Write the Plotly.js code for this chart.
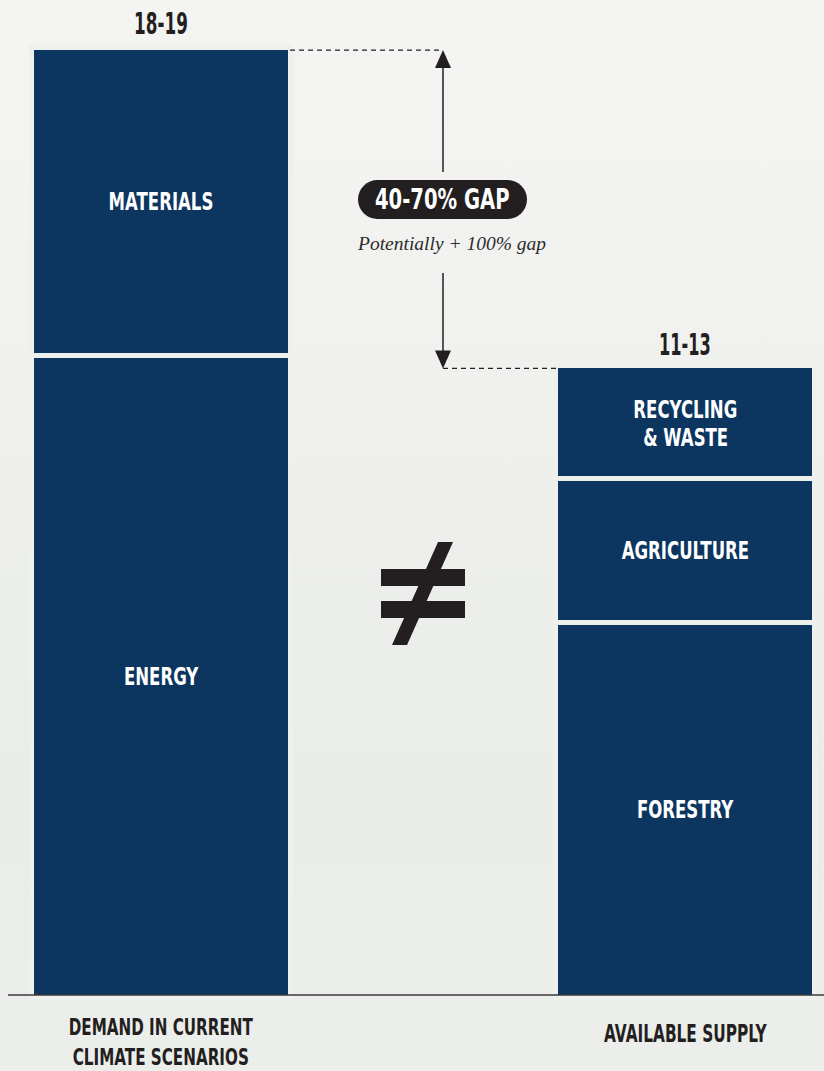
<!DOCTYPE html>
<html>
<head>
<meta charset="utf-8">
<script src="https://cdn.plot.ly/plotly-3.0.1.min.js"></script>
<style>
  html, body { margin:0; padding:0; }
  body { width:824px; height:1071px; overflow:hidden;
    background: linear-gradient(to bottom, #f4f4f3 0%, #f1f2f0 30%, #eceeeb 55%, #e9ece8 75%, #eceeeb 100%); }
  #chart { width:824px; height:1071px; }
</style>
</head>
<body>
<div id="chart"></div>
<script>
// ---- data ----
const categories = ['DEMAND IN CURRENT<br>CLIMATE SCENARIOS', 'AVAILABLE SUPPLY'];
const demandSegments = ['ENERGY', 'MATERIALS'];
const demandValues = [12.5, 6.0];
const supplySegments = ['FORESTRY', 'AGRICULTURE', 'RECYCLING<br>& WASTE'];
const supplyValues = [7.3, 2.8, 2.2];
const rangeLabels = ['18-19', '11-13'];
const gapLabel = '40-70% GAP';
const gapNote = 'Potentially + 100% gap';

// ---- style ----
const W = 824, H = 1071;
const BAR = '#0c365f', INK = '#231f20', GAPC = '#eef0ed';
const COND = '"DejaVu Sans", sans-serif';
const SERIF = '"Liberation Serif", "DejaVu Serif", serif';
const yMin = -1.431, yMax = 19.426;
const xMin = -0.3073, xMax = 1.2652;
const BW = 0.4943;
const xp = px => px / W;
const yp = py => 1 - py / H;
const yPx = v => H * (yMax - v) / (yMax - yMin);
const xPx = i => W * (i - xMin) / (xMax - xMin);

const traces = [];
function addBars(cat, names, vals) {
  names.forEach((name, i) => traces.push({
    type: 'bar', x: [cat], y: [vals[i]], name: name.replace('<br>', ' '),
    marker: { color: BAR, line: { color: GAPC, width: 5 } },
    width: BW, hoverinfo: 'skip'
  }));
}
addBars(categories[0], demandSegments, demandValues);
addBars(categories[1], supplySegments, supplyValues);

const annotations = [];
const squeeze = [];
function addText(opts, k) { annotations.push(Object.assign({ showarrow: false }, opts)); squeeze.push(k); }

// labels inside segments (at the data midpoint of every segment)
function addSegLabels(cat, names, vals) {
  let base = 0;
  names.forEach((name, i) => {
    const mid = base + vals[i] / 2;
    const lines = name.split('<br>');
    lines.forEach((ln, j) => {
      addText({ xref: 'x', yref: 'y', x: cat, y: mid, yanchor: 'middle',
        yshift: ((lines.length - 1) / 2 - j) * 28 - 2 * (lines.length - 1),
        text: ln, font: { family: COND, size: 24, color: '#ffffff', weight: 700 } }, 0.69);
    });
    base += vals[i];
  });
}
addSegLabels(categories[0], demandSegments, demandValues);
addSegLabels(categories[1], supplySegments, supplyValues);

const demandTotal = demandValues.reduce((a, b) => a + b, 0);
const supplyTotal = supplyValues.reduce((a, b) => a + b, 0);

// range labels above each bar
addText({ xref: 'x', yref: 'y', x: categories[0], y: demandTotal, yanchor: 'middle', yshift: 24,
  text: rangeLabels[0], font: { family: COND, size: 30, color: INK, weight: 700 } }, 0.56);
addText({ xref: 'x', yref: 'y', x: categories[1], y: supplyTotal, yanchor: 'middle', yshift: 21,
  text: rangeLabels[1], font: { family: COND, size: 30, color: INK, weight: 700 } }, 0.54);

// category labels under the baseline
addText({ xref: 'x', yref: 'paper', x: categories[0], y: yp(1041.5), yanchor: 'middle',
  text: categories[0], font: { family: COND, size: 23, color: INK, weight: 700 } }, 0.66);
addText({ xref: 'x', yref: 'paper', x: categories[1], y: yp(1033.5), yanchor: 'middle',
  text: categories[1], font: { family: COND, size: 24, color: INK, weight: 700 } }, 0.64);

// gap pill and note
addText({ xref: 'paper', yref: 'paper', x: xp(442.5), y: yp(199), xanchor: 'center', yanchor: 'middle',
  text: gapLabel, font: { family: COND, size: 28, color: '#ffffff', weight: 700 } }, 0.70);
addText({ xref: 'paper', yref: 'paper', x: xp(451), y: yp(244), xanchor: 'center', yanchor: 'middle',
  text: gapNote, font: { family: SERIF, size: 19.5, color: '#2b2b2b', style: 'italic' } }, 1);

const topD = yPx(demandTotal) + 2.5;
const topS = yPx(supplyTotal) + 2.5;
const arrowX = 443;
const barHalf = BW / 2 * W / (xMax - xMin) - 2.5;

const shapes = [
  { type: 'line', xref: 'paper', yref: 'paper', x0: xp(8), x1: 1, y0: yp(995), y1: yp(995),
    line: { color: '#3a3a3a', width: 1.5 } },
  { type: 'line', xref: 'paper', yref: 'paper', x0: xp(xPx(0) + barHalf + 2), x1: xp(arrowX), y0: yp(topD), y1: yp(topD),
    line: { color: INK, width: 1.3, dash: '5px,4px' } },
  { type: 'line', xref: 'paper', yref: 'paper', x0: xp(arrowX), x1: xp(xPx(1) - barHalf - 2), y0: yp(topS), y1: yp(topS),
    line: { color: INK, width: 1.3, dash: '5px,4px' } },
  { type: 'line', xref: 'paper', yref: 'paper', x0: xp(arrowX), x1: xp(arrowX), y0: yp(topD + 16), y1: yp(172),
    line: { color: INK, width: 1.5 } },
  { type: 'path', xref: 'paper', yref: 'paper', fillcolor: INK, line: { width: 0 },
    path: `M${xp(arrowX)},${yp(topD)} L${xp(arrowX - 8)},${yp(topD + 18)} L${xp(arrowX + 8)},${yp(topD + 18)} Z` },
  { type: 'line', xref: 'paper', yref: 'paper', x0: xp(arrowX), x1: xp(arrowX), y0: yp(273), y1: yp(topS - 16),
    line: { color: INK, width: 1.5 } },
  { type: 'path', xref: 'paper', yref: 'paper', fillcolor: INK, line: { width: 0 },
    path: `M${xp(arrowX)},${yp(topS)} L${xp(arrowX - 8)},${yp(topS - 18)} L${xp(arrowX + 8)},${yp(topS - 18)} Z` },
  { type: 'rect', xref: 'paper', yref: 'paper', x0: xp(377.5), x1: xp(507.5), y0: yp(180), y1: yp(219),
    fillcolor: INK, line: { width: 0 } },
  { type: 'circle', xref: 'paper', yref: 'paper', x0: xp(358), x1: xp(397), y0: yp(180), y1: yp(219),
    fillcolor: INK, line: { width: 0 } },
  { type: 'circle', xref: 'paper', yref: 'paper', x0: xp(488), x1: xp(527), y0: yp(180), y1: yp(219),
    fillcolor: INK, line: { width: 0 } },
  { type: 'rect', xref: 'paper', yref: 'paper', x0: xp(381), x1: xp(465), y0: yp(569), y1: yp(586),
    fillcolor: INK, line: { width: 0 } },
  { type: 'rect', xref: 'paper', yref: 'paper', x0: xp(381), x1: xp(465), y0: yp(601), y1: yp(618),
    fillcolor: INK, line: { width: 0 } },
  { type: 'path', xref: 'paper', yref: 'paper', fillcolor: INK, line: { width: 0 },
    path: `M${xp(438)},${yp(542)} L${xp(453)},${yp(542)} L${xp(407)},${yp(645)} L${xp(392)},${yp(645)} Z` }
];

const layout = {
  width: W, height: H,
  margin: { l: 0, r: 0, t: 0, b: 0, pad: 0 },
  paper_bgcolor: 'rgba(0,0,0,0)', plot_bgcolor: 'rgba(0,0,0,0)',
  barmode: 'stack', showlegend: false,
  xaxis: { type: 'category', range: [xMin, xMax], visible: false, fixedrange: true },
  yaxis: { range: [yMin, yMax], visible: false, fixedrange: true },
  annotations: annotations, shapes: shapes
};

Plotly.newPlot('chart', traces, layout, { displayModeBar: false, staticPlot: true }).then(() => {
  document.querySelectorAll('#chart .annotation').forEach(g => {
    const i = +g.getAttribute('data-index');
    const k = squeeze[i];
    const t = g.querySelector('.annotation-text');
    if (t && k && k !== 1) {
      t.style.transformBox = 'fill-box';
      t.style.transformOrigin = 'center';
      t.style.transform = 'scaleX(' + k + ')';
    }
  });
});
</script>
</body>
</html>
